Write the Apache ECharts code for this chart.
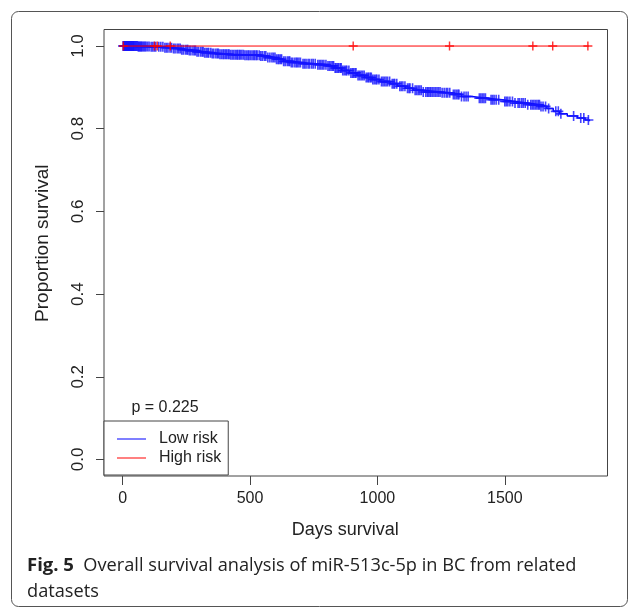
<!DOCTYPE html>
<html>
<head>
<meta charset="utf-8">
<script src="https://cdn.jsdelivr.net/npm/echarts@6/dist/echarts.min.js"></script>
<style>
html,body{margin:0;padding:0;background:#fff;}
#chart{width:629px;height:609px;}
</style>
</head>
<body>
<div id="chart"></div>
<script>
// ---- data ----
const xTicks = [0, 500, 1000, 1500];
const yTicks = [0, 0.2, 0.4, 0.6, 0.8, 1.0];

// Low risk Kaplan-Meier step curve (day, survival after the step)
const lowTimes = [0, 60, 110, 160, 200, 230, 260, 290, 320, 350, 380, 420, 480, 540, 570, 600, 630, 660, 700, 760, 800, 830, 860, 890, 920, 950, 980, 1010, 1050, 1080, 1110, 1140, 1180, 1250, 1290, 1330, 1370, 1430, 1490, 1540, 1590, 1640, 1665, 1690, 1715, 1745, 1785, 1815, 1832];
const lowSurv = [1.0, 0.999, 0.998, 0.996, 0.994, 0.991, 0.989, 0.986, 0.984, 0.982, 0.980, 0.979, 0.978, 0.976, 0.972, 0.968, 0.963, 0.960, 0.957, 0.955, 0.952, 0.947, 0.941, 0.935, 0.929, 0.924, 0.919, 0.914, 0.909, 0.903, 0.898, 0.893, 0.889, 0.887, 0.883, 0.878, 0.874, 0.870, 0.866, 0.862, 0.858, 0.854, 0.849, 0.842, 0.836, 0.831, 0.826, 0.821, 0.818];
// Low risk censoring times (days)
const lowCensor = [2, 4, 6, 8, 10, 12, 14, 16, 18, 20, 22, 24, 26, 28, 30, 32, 34, 36, 38, 40, 42, 44, 46, 49, 52, 55, 58, 61, 64, 67, 70, 73, 76, 80, 84, 88, 92, 98, 104, 112, 118, 124, 130, 142, 150, 158, 166, 172, 178, 186, 192, 200, 206, 214, 220, 226, 232, 238, 246, 252, 256, 262, 268, 276, 282, 286, 292, 298, 306, 312, 316, 322, 328, 334, 338, 346, 352, 358, 366, 372, 376, 382, 388, 394, 398, 404, 408, 414, 418, 424, 430, 436, 442, 448, 452, 458, 462, 468, 474, 480, 486, 492, 496, 502, 508, 514, 518, 524, 528, 536, 542, 548, 556, 562, 570, 578, 586, 592, 598, 604, 610, 614, 620, 624, 632, 638, 646, 652, 656, 662, 668, 676, 682, 686, 692, 698, 708, 714, 720, 728, 734, 742, 748, 756, 766, 772, 778, 784, 790, 798, 806, 812, 818, 824, 828, 834, 838, 844, 848, 854, 858, 864, 870, 876, 880, 888, 896, 902, 906, 912, 916, 924, 930, 936, 942, 948, 956, 962, 966, 972, 976, 982, 988, 994, 998, 1006, 1016, 1022, 1028, 1034, 1040, 1048, 1058, 1064, 1068, 1076, 1088, 1094, 1100, 1108, 1118, 1124, 1128, 1138, 1148, 1154, 1160, 1166, 1172, 1180, 1190, 1196, 1200, 1206, 1210, 1216, 1222, 1228, 1234, 1240, 1246, 1254, 1262, 1270, 1276, 1284, 1298, 1304, 1310, 1316, 1320, 1330, 1340, 1348, 1356, 1400, 1406, 1412, 1418, 1424, 1446, 1452, 1458, 1466, 1476, 1500, 1506, 1512, 1520, 1530, 1540, 1552, 1558, 1566, 1572, 1580, 1590, 1602, 1608, 1614, 1620, 1626, 1632, 1636, 1642, 1650, 1660, 1672, 1700, 1710, 1720, 1770, 1798, 1810, 1828];

// High risk curve
const highTimes = [0, 1830];
const highSurv = [1.0, 1.0];
const highCensor = [3, 125, 136, 187, 905, 1283, 1610, 1688, 1826];

const pValueText = 'p = 0.225';
const captionBold = 'Fig. 5';
const captionLine1 = 'Overall survival analysis of miR-513c-5p in BC from related';
const captionLine2 = 'datasets';

// ---- build chart ----
function zip(a, b) { return a.map((v, i) => [v, b[i]]); }
function survAt(times, surv, t) {
  let s = surv[0];
  for (let i = 0; i < times.length; i++) { if (times[i] <= t) s = surv[i]; }
  return s;
}
const plusPath = 'path://M-0.16,-1H0.16V-0.16H1V0.16H0.16V1H-0.16V0.16H-1V-0.16H-0.16Z';
const FONT = 'Liberation Sans';

const chart = echarts.init(document.getElementById('chart'), null, {renderer: 'canvas'});
chart.setOption({
  animation: false,
  backgroundColor: '#fff',
  grid: {left: 104, top: 29.5, right: 21.5, bottom: 133, show: true, borderColor: '#444', borderWidth: 1, containLabel: false},
  xAxis: {
    type: 'value', min: -73, max: 1903,
    name: 'Days survival', nameLocation: 'middle', nameGap: 45,
    nameTextStyle: {fontFamily: FONT, fontSize: 18, color: '#222', padding: [0, 21, 0, 0]},
    axisLine: {show: false, onZero: false},
    splitLine: {show: false},
    axisTick: {show: true, inside: false, length: 9, customValues: xTicks, lineStyle: {color: '#444', width: 1}},
    axisLabel: {customValues: xTicks, margin: 15, fontFamily: FONT, fontSize: 16, color: '#222',
      formatter: v => String(v)}
  },
  yAxis: {
    type: 'value', min: -0.04, max: 1.04,
    name: 'Proportion survival', nameLocation: 'middle', nameGap: 52, nameRotate: 90,
    nameTextStyle: {fontFamily: FONT, fontSize: 19, color: '#222', padding: [0, 0, 0, 19]},
    axisLine: {show: false, onZero: false},
    splitLine: {show: false},
    axisTick: {show: true, inside: false, length: 8, customValues: yTicks, lineStyle: {color: '#444', width: 1}},
    axisLabel: {customValues: yTicks, rotate: 90, margin: 17, fontFamily: FONT, fontSize: 17, color: '#222',
      formatter: v => v.toFixed(1)}
  },
  legend: {
    orient: 'vertical', left: 104, top: 421,
    backgroundColor: '#fff', borderColor: '#444', borderWidth: 1,
    padding: [10, 7, 9, 13], itemGap: 3,
    itemWidth: 29, itemHeight: 2,
    icon: 'rect',
    textStyle: {fontFamily: FONT, fontSize: 16, color: '#222', lineHeight: 16, padding: [0, 0, 0, 8]},
    data: [
      {name: 'Low risk', itemStyle: {color: '#7f7fff'}},
      {name: 'High risk', itemStyle: {color: '#ff8080'}}
    ]
  },
  series: [
    {name: 'Low risk', type: 'line', step: 'end', data: zip(lowTimes, lowSurv), showSymbol: false, symbol: 'none',
      lineStyle: {color: '#0000ff', width: 1.5}, itemStyle: {color: '#0000ff'}, z: 2},
    {name: 'Low risk censored', type: 'scatter', data: lowCensor.map(t => [t, survAt(lowTimes, lowSurv, t)]),
      symbol: plusPath, symbolSize: 10, itemStyle: {color: '#1414ff', opacity: 0.8}, z: 3},
    {name: 'High risk', type: 'line', step: 'end', data: zip(highTimes, highSurv), showSymbol: false, symbol: 'none',
      lineStyle: {color: '#ff0000', width: 1}, itemStyle: {color: '#ff0000'}, z: 4},
    {name: 'High risk censored', type: 'scatter', data: highCensor.map(t => [t, survAt(highTimes, highSurv, t)]),
      symbol: plusPath, symbolSize: 9, itemStyle: {color: '#ff0000'}, z: 5}
  ],
  graphic: [
    {type: 'rect', silent: true, z: -10, shape: {x: 11.5, y: 11.5, width: 616, height: 595, r: 7},
      style: {fill: 'none', stroke: '#555', lineWidth: 1}},
    {type: 'text', silent: true, x: 165, y: 408, style: {text: pValueText, font: '16px "Liberation Sans"', fill: '#222', align: 'center', verticalAlign: 'middle'}},
    {type: 'text', silent: true, x: 27, y: 566, style: {
      text: '{b|' + captionBold + '}{n|  ' + captionLine1 + '}',
      verticalAlign: 'middle', align: 'left',
      rich: {
        b: {fontFamily: 'Open Sans', fontWeight: 'bold', fontSize: 18.5, fill: '#222'},
        n: {fontFamily: 'Open Sans', fontSize: 18.2, fill: '#222'}
      }
    }},
    {type: 'text', silent: true, x: 27, y: 592, style: {text: captionLine2, font: '18.2px "Open Sans"', fill: '#222', align: 'left', verticalAlign: 'middle'}}
  ]
});
</script>
</body>
</html>
